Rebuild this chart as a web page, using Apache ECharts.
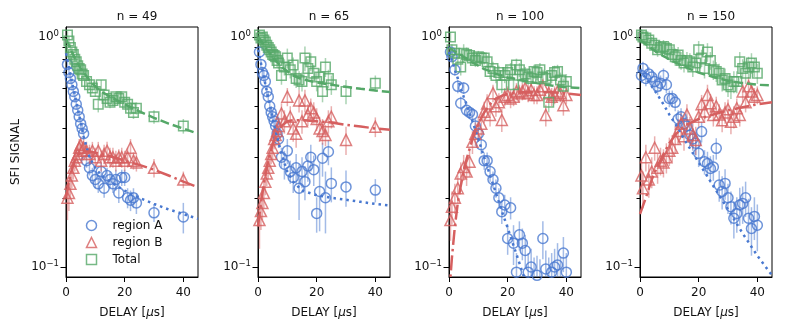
<!DOCTYPE html>
<html>
<head>
    <meta charset="UTF-8">
    <title>SFI signal vs delay</title>
    <script type="text/javascript" src="https://cdn.jsdelivr.net/npm/echarts@6.0.0/dist/echarts.min.js"></script>
</head>
<body style="margin:0;overflow:hidden;background:#fff;">
<div id="chart" style="width:788px;height:329px"></div>
<script type="text/javascript">
    var titles = ['n = 49', 'n = 65', 'n = 100', 'n = 150'];
    var legendNames = ['region A', 'region B', 'Total'];
    var xTicks = [0, 20, 40];
    var yMajorTicks = [0.1, 1];
    var yMinorTicks = [0.2, 0.3, 0.4, 0.5, 0.6, 0.7, 0.8, 0.9];

    // n = 49
    var delay49 = [0.5, 1, 1.5, 2, 2.5, 3, 3.5, 4, 4.5, 5, 5.5, 6, 7, 8, 9, 10, 11, 12, 13, 14, 15, 16, 17, 18, 19, 20, 21, 22, 23, 24, 30, 40];
    var regionA49 = [0.76, 0.70, 0.66, 0.62, 0.58, 0.55, 0.51, 0.48, 0.45, 0.42, 0.40, 0.38, 0.29, 0.27, 0.25, 0.24, 0.23, 0.26, 0.22, 0.25, 0.24, 0.23, 0.24, 0.21, 0.245, 0.245, 0.20, 0.195, 0.20, 0.19, 0.172, 0.165];
    var errA49 = [0.03, 0.03, 0.03, 0.03, 0.025, 0.025, 0.025, 0.02, 0.02, 0.02, 0.02, 0.02, 0.02, 0.02, 0.02, 0.02, 0.02, 0.025, 0.02, 0.02, 0.02, 0.02, 0.025, 0.02, 0.02, 0.02, 0.02, 0.02, 0.02, 0.02, 0.015, 0.025];
    var regionB49 = [0.20, 0.21, 0.23, 0.25, 0.27, 0.29, 0.30, 0.31, 0.33, 0.34, 0.32, 0.33, 0.32, 0.31, 0.32, 0.30, 0.32, 0.29, 0.31, 0.32, 0.30, 0.30, 0.29, 0.30, 0.30, 0.29, 0.30, 0.33, 0.29, 0.285, 0.27, 0.24];
    var errB49 = [0.04, 0.035, 0.03, 0.03, 0.03, 0.03, 0.03, 0.03, 0.03, 0.03, 0.03, 0.03, 0.03, 0.03, 0.03, 0.03, 0.03, 0.03, 0.03, 0.03, 0.03, 0.03, 0.03, 0.025, 0.03, 0.03, 0.03, 0.03, 0.025, 0.025, 0.025, 0.02];
    var total49 = [1.02, 0.96, 0.90, 0.86, 0.84, 0.80, 0.78, 0.75, 0.73, 0.72, 0.69, 0.68, 0.64, 0.62, 0.60, 0.58, 0.51, 0.62, 0.56, 0.54, 0.52, 0.53, 0.55, 0.54, 0.55, 0.52, 0.51, 0.49, 0.47, 0.49, 0.45, 0.41];
    var errT49 = [0.04, 0.04, 0.04, 0.04, 0.035, 0.035, 0.035, 0.03, 0.03, 0.03, 0.03, 0.03, 0.03, 0.03, 0.03, 0.03, 0.04, 0.03, 0.03, 0.03, 0.03, 0.03, 0.03, 0.03, 0.03, 0.03, 0.03, 0.03, 0.03, 0.03, 0.03, 0.03];
    var fitDelay49 = [0, 1, 2, 3, 4, 5, 6, 8, 10, 12, 15, 20, 25, 30, 35, 40, 45];
    var fitA49 = [0.85, 0.74, 0.64, 0.56, 0.49, 0.43, 0.37, 0.30, 0.27, 0.25, 0.235, 0.215, 0.20, 0.188, 0.178, 0.17, 0.162];
    var fitB49 = [0.20, 0.235, 0.265, 0.29, 0.305, 0.315, 0.318, 0.318, 0.314, 0.31, 0.303, 0.29, 0.278, 0.265, 0.25, 0.235, 0.222];
    var fitT49 = [0.98, 0.92, 0.86, 0.81, 0.77, 0.73, 0.70, 0.65, 0.61, 0.58, 0.55, 0.51, 0.475, 0.445, 0.42, 0.40, 0.38];

    // n = 65
    var delay65 = [0.5, 1, 1.5, 2, 2.5, 3, 3.5, 4, 4.5, 5, 5.5, 6, 6.5, 7, 8, 9, 10, 11, 12, 13, 14, 15, 16, 17, 18, 19, 20, 21, 22, 23, 24, 25, 30, 40];
    var regionA65 = [0.86, 0.76, 0.70, 0.68, 0.64, 0.58, 0.55, 0.50, 0.47, 0.45, 0.43, 0.41, 0.38, 0.36, 0.30, 0.28, 0.32, 0.26, 0.245, 0.27, 0.22, 0.26, 0.235, 0.275, 0.30, 0.265, 0.171, 0.213, 0.297, 0.20, 0.317, 0.231, 0.223, 0.216];
    var errA65 = [0.05, 0.04, 0.04, 0.04, 0.035, 0.035, 0.03, 0.03, 0.03, 0.03, 0.03, 0.03, 0.03, 0.03, 0.03, 0.04, 0.04, 0.03, 0.035, 0.04, 0.06, 0.04, 0.04, 0.04, 0.04, 0.04, 0.03, 0.07, 0.05, 0.06, 0.04, 0.04, 0.04, 0.025];
    var regionB65 = [0.16, 0.175, 0.19, 0.21, 0.235, 0.255, 0.27, 0.29, 0.31, 0.33, 0.36, 0.375, 0.39, 0.41, 0.465, 0.43, 0.55, 0.45, 0.40, 0.38, 0.53, 0.43, 0.53, 0.46, 0.49, 0.47, 0.44, 0.40, 0.39, 0.375, 0.43, 0.45, 0.357, 0.407];
    var errB65 = [0.04, 0.03, 0.03, 0.03, 0.03, 0.03, 0.03, 0.03, 0.03, 0.035, 0.035, 0.04, 0.04, 0.04, 0.05, 0.05, 0.05, 0.05, 0.05, 0.05, 0.06, 0.05, 0.06, 0.05, 0.05, 0.05, 0.05, 0.05, 0.05, 0.04, 0.05, 0.05, 0.05, 0.04];
    var total65 = [1.02, 0.99, 1.0, 0.97, 0.95, 0.92, 0.90, 0.88, 0.86, 0.84, 0.83, 0.82, 0.79, 0.77, 0.68, 0.74, 0.81, 0.72, 0.755, 0.66, 0.65, 0.64, 0.81, 0.73, 0.78, 0.695, 0.64, 0.67, 0.58, 0.74, 0.66, 0.62, 0.58, 0.63];
    var errT65 = [0.05, 0.05, 0.05, 0.05, 0.05, 0.05, 0.05, 0.05, 0.05, 0.05, 0.05, 0.05, 0.05, 0.05, 0.06, 0.06, 0.08, 0.06, 0.06, 0.06, 0.06, 0.06, 0.1, 0.07, 0.07, 0.06, 0.06, 0.06, 0.06, 0.07, 0.06, 0.06, 0.07, 0.05];
    var fitDelay65 = [0, 1, 2, 3, 4, 5, 6, 8, 10, 12, 15, 20, 25, 30, 35, 40, 45];
    var fitA65 = [0.88, 0.77, 0.67, 0.58, 0.51, 0.44, 0.39, 0.31, 0.26, 0.235, 0.215, 0.205, 0.20, 0.196, 0.192, 0.188, 0.185];
    var fitB65 = [0.15, 0.19, 0.23, 0.27, 0.31, 0.34, 0.37, 0.41, 0.43, 0.435, 0.435, 0.43, 0.425, 0.415, 0.408, 0.40, 0.395];
    var fitT65 = [1.0, 0.96, 0.92, 0.88, 0.85, 0.82, 0.79, 0.74, 0.71, 0.68, 0.655, 0.635, 0.62, 0.607, 0.595, 0.585, 0.577];

    // n = 100
    var delay100 = [0.5, 1, 2, 3, 4, 5, 6, 7, 8, 9, 10, 11, 12, 13, 14, 15, 16, 17, 18, 19, 20, 21, 22, 23, 24, 25, 26, 27, 28, 29, 30, 31, 32, 33, 34, 35, 36, 37, 38, 39, 40];
    var regionA100 = [0.86, 0.82, 0.72, 0.61, 0.515, 0.60, 0.48, 0.47, 0.46, 0.41, 0.38, 0.34, 0.29, 0.29, 0.26, 0.24, 0.22, 0.20, 0.174, 0.186, 0.133, 0.181, 0.127, 0.095, 0.138, 0.127, 0.118, 0.095, 0.10, 0.09, 0.092, 0.088, 0.133, 0.098, 0.09, 0.095, 0.10, 0.102, 0.09, 0.115, 0.095];
    var errA100 = [0.04, 0.04, 0.04, 0.04, 0.035, 0.035, 0.03, 0.03, 0.03, 0.03, 0.03, 0.03, 0.025, 0.025, 0.025, 0.02, 0.02, 0.02, 0.02, 0.02, 0.02, 0.02, 0.025, 0.02, 0.02, 0.02, 0.02, 0.02, 0.02, 0.02, 0.02, 0.02, 0.025, 0.02, 0.02, 0.02, 0.02, 0.025, 0.02, 0.02, 0.02];
    var regionB100 = [0.16, 0.183, 0.20, 0.22, 0.255, 0.272, 0.26, 0.287, 0.35, 0.38, 0.40, 0.42, 0.473, 0.514, 0.458, 0.57, 0.50, 0.52, 0.436, 0.55, 0.56, 0.54, 0.55, 0.58, 0.57, 0.58, 0.60, 0.57, 0.588, 0.56, 0.56, 0.59, 0.61, 0.458, 0.57, 0.55, 0.56, 0.58, 0.57, 0.505, 0.56];
    var errB100 = [0.03, 0.03, 0.03, 0.03, 0.03, 0.035, 0.035, 0.04, 0.04, 0.045, 0.05, 0.05, 0.05, 0.05, 0.05, 0.05, 0.05, 0.05, 0.05, 0.05, 0.05, 0.05, 0.05, 0.05, 0.05, 0.05, 0.05, 0.05, 0.05, 0.05, 0.05, 0.05, 0.05, 0.05, 0.05, 0.05, 0.05, 0.05, 0.05, 0.05, 0.05];
    var total100 = [1.0, 0.88, 0.85, 0.80, 0.74, 0.85, 0.84, 0.83, 0.81, 0.79, 0.82, 0.81, 0.81, 0.78, 0.707, 0.73, 0.68, 0.70, 0.62, 0.68, 0.70, 0.72, 0.62, 0.755, 0.72, 0.68, 0.69, 0.67, 0.66, 0.707, 0.70, 0.72, 0.67, 0.66, 0.52, 0.68, 0.70, 0.707, 0.65, 0.61, 0.64];
    var errT100 = [0.05, 0.05, 0.05, 0.05, 0.06, 0.08, 0.06, 0.05, 0.05, 0.05, 0.05, 0.05, 0.05, 0.05, 0.05, 0.05, 0.05, 0.05, 0.05, 0.05, 0.05, 0.05, 0.05, 0.05, 0.05, 0.05, 0.05, 0.05, 0.05, 0.05, 0.05, 0.05, 0.05, 0.05, 0.05, 0.05, 0.05, 0.05, 0.05, 0.05, 0.05];
    var fitDelay100 = [0, 1, 2, 3, 4, 5, 6, 8, 10, 12, 14, 16, 18, 20, 22, 24, 26, 30, 35, 40, 45];
    var fitA100 = [0.86, 0.79, 0.72, 0.66, 0.60, 0.55, 0.51, 0.43, 0.36, 0.30, 0.25, 0.21, 0.175, 0.148, 0.124, 0.104, 0.087, null, null, null, null];
    var fitB100 = [0.075, 0.11, 0.15, 0.19, 0.225, 0.26, 0.295, 0.36, 0.42, 0.47, 0.51, 0.54, 0.555, 0.565, 0.57, 0.575, 0.577, 0.578, 0.575, 0.568, 0.56];
    var fitT100 = [0.90, 0.88, 0.865, 0.85, 0.835, 0.82, 0.805, 0.775, 0.75, 0.725, 0.71, 0.69, 0.68, 0.665, 0.66, 0.65, 0.643, 0.63, 0.615, 0.605, 0.60];

    // n = 150
    var delay150 = [0.5, 1, 2, 3, 4, 5, 6, 7, 8, 9, 10, 11, 12, 13, 14, 15, 16, 17, 18, 19, 20, 21, 22, 23, 24, 25, 26, 27, 28, 29, 30, 31, 32, 33, 34, 35, 36, 37, 38, 39, 40];
    var regionA150 = [0.68, 0.73, 0.66, 0.69, 0.67, 0.64, 0.61, 0.63, 0.68, 0.62, 0.54, 0.54, 0.52, 0.44, 0.45, 0.42, 0.41, 0.375, 0.36, 0.345, 0.312, 0.388, 0.287, 0.282, 0.268, 0.272, 0.328, 0.227, 0.213, 0.231, 0.20, 0.183, 0.163, 0.171, 0.186, 0.189, 0.20, 0.163, 0.147, 0.166, 0.152];
    var errA150 = [0.05, 0.05, 0.05, 0.05, 0.05, 0.05, 0.05, 0.05, 0.05, 0.05, 0.045, 0.045, 0.045, 0.04, 0.04, 0.04, 0.04, 0.04, 0.04, 0.04, 0.04, 0.04, 0.035, 0.035, 0.035, 0.035, 0.035, 0.035, 0.035, 0.035, 0.03, 0.03, 0.03, 0.03, 0.035, 0.035, 0.035, 0.035, 0.035, 0.035, 0.035];
    var regionB150 = [0.25, 0.22, 0.30, 0.24, 0.26, 0.33, 0.27, 0.29, 0.285, 0.30, 0.32, 0.33, 0.36, 0.39, 0.42, 0.37, 0.46, 0.40, 0.375, 0.357, 0.45, 0.51, 0.474, 0.56, 0.515, 0.458, 0.50, 0.46, 0.435, 0.47, 0.485, 0.428, 0.45, 0.49, 0.458, 0.58, 0.52, 0.61, 0.58, 0.55, 0.56];
    var errB150 = [0.04, 0.04, 0.04, 0.04, 0.04, 0.04, 0.04, 0.04, 0.04, 0.045, 0.045, 0.045, 0.05, 0.05, 0.05, 0.05, 0.05, 0.05, 0.05, 0.05, 0.05, 0.05, 0.05, 0.06, 0.05, 0.05, 0.05, 0.05, 0.05, 0.05, 0.05, 0.05, 0.05, 0.05, 0.05, 0.06, 0.05, 0.06, 0.05, 0.05, 0.05];
    var total150 = [1.02, 1.0, 0.99, 0.97, 0.94, 0.92, 0.88, 0.90, 0.91, 0.89, 0.88, 0.84, 0.82, 0.835, 0.79, 0.77, 0.79, 0.78, 0.74, 0.77, 0.88, 0.81, 0.73, 0.86, 0.79, 0.72, 0.707, 0.695, 0.65, 0.66, 0.618, 0.608, 0.64, 0.64, 0.78, 0.73, 0.695, 0.74, 0.77, 0.74, 0.695];
    var errT150 = [0.06, 0.06, 0.06, 0.06, 0.06, 0.06, 0.06, 0.06, 0.06, 0.07, 0.07, 0.07, 0.07, 0.07, 0.07, 0.07, 0.07, 0.07, 0.07, 0.07, 0.08, 0.07, 0.07, 0.08, 0.07, 0.07, 0.07, 0.07, 0.07, 0.07, 0.07, 0.07, 0.07, 0.07, 0.08, 0.07, 0.07, 0.08, 0.08, 0.07, 0.07];
    var fitDelay150 = [0, 2, 4, 6, 8, 10, 12, 15, 20, 25, 30, 35, 40, 45];
    var fitA150 = [0.72, 0.66, 0.61, 0.56, 0.51, 0.46, 0.42, 0.36, 0.285, 0.225, 0.178, 0.14, 0.112, 0.092];
    var fitB150 = [0.17, 0.20, 0.24, 0.275, 0.31, 0.345, 0.375, 0.41, 0.44, 0.46, 0.48, 0.495, 0.51, 0.52];
    var fitT150 = [0.97, 0.93, 0.89, 0.855, 0.825, 0.80, 0.775, 0.745, 0.70, 0.67, 0.645, 0.63, 0.62, 0.615];

    var panels = [
        {delay: delay49, A: regionA49, eA: errA49, B: regionB49, eB: errB49, T: total49, eT: errT49,
            fitDelay: fitDelay49, fA: fitA49, fB: fitB49, fT: fitT49},
        {delay: delay65, A: regionA65, eA: errA65, B: regionB65, eB: errB65, T: total65, eT: errT65,
            fitDelay: fitDelay65, fA: fitA65, fB: fitB65, fT: fitT65},
        {delay: delay100, A: regionA100, eA: errA100, B: regionB100, eB: errB100, T: total100, eT: errT100,
            fitDelay: fitDelay100, fA: fitA100, fB: fitB100, fT: fitT100},
        {delay: delay150, A: regionA150, eA: errA150, B: regionB150, eB: errB150, T: total150, eT: errT150,
            fitDelay: fitDelay150, fA: fitA150, fB: fitB150, fT: fitT150}
    ];

    var FONT = 'DejaVu Sans';
    var YMIN = 0.0905, YMAX = 1.105;
    var gridLefts = [66, 258, 449, 640];
    var kinds = [
        {key: 'A', name: legendNames[0], symbol: 'circle', size: 10, color: '#4878d0', dash: [2.5, 4]},
        {key: 'B', name: legendNames[1], symbol: 'triangle', size: 11, color: '#d65f5f', dash: [15, 4, 2.5, 4]},
        {key: 'T', name: legendNames[2], symbol: 'rect', size: 9.5, color: '#55a868', dash: [9, 4]}
    ];

    var grids = [], xAxes = [], yAxes = [], series = [], titleList = [];

    panels.forEach(function (p, i) {
        grids.push({left: gridLefts[i], top: 27, width: 132, height: 250, show: true,
            borderColor: '#000', borderWidth: 1, backgroundColor: 'transparent'});
        titleList.push({text: titles[i], left: gridLefts[i] + 66, top: 6, textAlign: 'center',
            textStyle: {fontSize: 12, fontWeight: 'normal', color: '#111', fontFamily: FONT}});
        xAxes.push({
            type: 'value', gridIndex: i, min: 0, max: 45,
            name: 'DELAY [{i|μ}s]', nameLocation: 'middle', nameGap: 30,
            nameTextStyle: {fontSize: 12, color: '#111', fontFamily: FONT,
                rich: {i: {fontSize: 12, fontStyle: 'italic', color: '#111', fontFamily: FONT}}},
            axisLine: {show: true, onZero: false, lineStyle: {color: '#000', width: 1}},
            axisTick: {show: true, length: 5, customValues: xTicks, lineStyle: {color: '#000'}},
            axisLabel: {customValues: xTicks, fontSize: 12, color: '#111', fontFamily: FONT, margin: 10},
            splitLine: {show: false}
        });
        yAxes.push({
            type: 'log', logBase: 10, gridIndex: i, position: 'left', min: YMIN, max: YMAX,
            name: i === 0 ? 'SFI SIGNAL' : '', nameLocation: 'middle', nameGap: 44,
            nameTextStyle: {fontSize: 12, color: '#111', fontFamily: FONT},
            axisLine: {show: true, lineStyle: {color: '#000', width: 1}},
            axisTick: {show: true, length: 5.5, customValues: yMajorTicks, lineStyle: {color: '#000'}},
            axisLabel: {
                customValues: yMajorTicks, fontSize: 12, color: '#111', fontFamily: FONT, margin: 7,
                formatter: function (v) {
                    var e = Math.round(Math.log(v) / Math.LN10);
                    return '10{s|' + (e < 0 ? '\u2212' + (-e) : e) + '}';
                },
                rich: {s: {fontSize: 8.5, color: '#111', fontFamily: FONT, padding: [0, 0, 7, 0]}}
            },
            splitLine: {show: false}
        });
        // minor log ticks
        yAxes.push({
            type: 'log', logBase: 10, gridIndex: i, position: 'left', offset: 0, min: YMIN, max: YMAX,
            axisLine: {show: false},
            axisTick: {show: true, length: 3.5, customValues: yMinorTicks, lineStyle: {color: '#000'}},
            axisLabel: {show: false},
            splitLine: {show: false}
        });

        kinds.forEach(function (k) {
            var vals = p[k.key], errs = p['e' + k.key];
            var pts = p.delay.map(function (d, j) { return [d, vals[j], errs[j]]; });
            series.push({
                type: 'custom', name: k.name + ' err', xAxisIndex: i, yAxisIndex: 2 * i, z: 1, silent: true,
                encode: {x: 0, y: 1},
                renderItem: function (params, api) {
                    var x = api.value(0), y = api.value(1), e = api.value(2);
                    var lo = Math.max(y - e, YMIN), hi = Math.min(y + e, YMAX);
                    if (lo >= hi) return null;
                    var a = api.coord([x, lo]), b = api.coord([x, hi]);
                    return {type: 'line', shape: {x1: a[0], y1: a[1], x2: b[0], y2: b[1]},
                        style: {stroke: k.color, lineWidth: 1.5, opacity: 0.5}};
                },
                data: pts
            });
            series.push({
                type: 'scatter', name: k.name, xAxisIndex: i, yAxisIndex: 2 * i, z: 2,
                symbol: k.symbol, symbolSize: k.size, clip: true,
                itemStyle: {color: 'none', borderColor: k.color, borderWidth: 1.5},
                data: pts.map(function (q) { return [q[0], q[1]]; })
            });
            var fv = p['f' + k.key];
            series.push({
                type: 'line', name: k.name + ' fit', xAxisIndex: i, yAxisIndex: 2 * i, z: 3,
                showSymbol: false, symbol: 'none', clip: true, silent: true, connectNulls: false,
                lineStyle: {color: k.color, width: 2.5, type: k.dash},
                data: p.fitDelay.map(function (d, j) { return [d, fv[j]]; })
            });
        });
    });

    var chart = echarts.init(document.getElementById('chart'));
    chart.setOption({
        animation: false,
        backgroundColor: '#fff',
        title: titleList,
        grid: grids,
        xAxis: xAxes,
        yAxis: yAxes,
        legend: {
            orient: 'vertical', left: 79, top: 213, itemWidth: 10, itemHeight: 10, itemGap: 2,
            selectedMode: false,
            textStyle: {fontSize: 12, color: '#111', fontFamily: FONT, padding: [0, 0, 0, 11]},
            data: kinds.map(function (k) {
                return {name: k.name, icon: k.symbol,
                    itemStyle: {color: 'none', borderColor: k.color, borderWidth: 1.5}};
            })
        },
        series: series
    });
</script>
</body>
</html>
